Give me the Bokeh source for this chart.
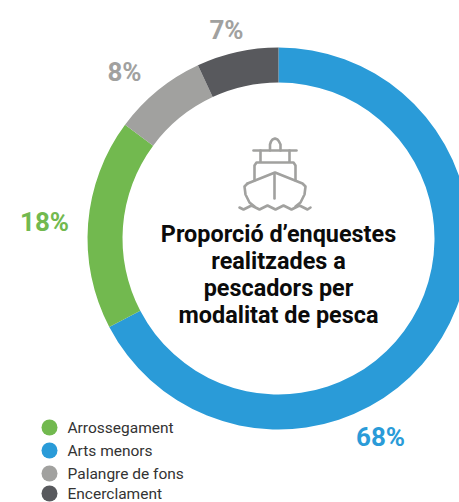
import math
from bokeh.plotting import figure
from bokeh.models import Range1d
from bokeh.core.properties import value
from bokeh.embed import file_html
from bokeh.resources import INLINE

categories = ["Arrossegament", "Arts menors", "Palangre de fons", "Encerclament"]
values = [18, 68, 8, 7]
labels = ["18%", "68%", "8%", "7%"]
colors = ["#72b94f", "#2a9bd8", "#a1a19f", "#58595d"]
label_colors = ["#72b94f", "#2a9bd8", "#a1a19f", "#a1a19f"]
title_lines = ["Proporció d’enquestes", "realitzades a", "pescadors per", "modalitat de pesca"]

W, H = 459, 502
p = figure(width=W, height=H, x_range=Range1d(0, W), y_range=Range1d(-H, 0),
           output_backend="svg", toolbar_location=None, min_border=0, outline_line_color=None)
p.axis.visible = False
p.grid.visible = False
p.background_fill_color = "white"

cx, cy, R, r = 278, 238, 191, 156
order = [1, 0, 2, 3]  # clockwise from the top
total = sum(values)
cum = 0
for i in order:
    start = math.pi / 2 - 2 * math.pi * (cum + values[i]) / total
    end = math.pi / 2 - 2 * math.pi * cum / total
    p.annular_wedge(x=cx, y=-cy, inner_radius=r, outer_radius=R, start_angle=start, end_angle=end,
                    fill_color=colors[i], line_color=None)
    cum += values[i]

label_pos = {0: (44, 221), 1: (380, 436), 2: (124, 71), 3: (226, 29)}
for i, (lx, ly) in label_pos.items():
    p.text(x=[lx], y=[-ly], text=[labels[i]], text_color=label_colors[i],
           text_font=value("Roboto"), text_font_style="bold", text_font_size="26px",
           text_align="center", text_baseline="middle")

for k, line in enumerate(title_lines):
    p.text(x=[cx], y=[-(233 + 27 * k)], text=[line], text_color="#0b0b0b",
           text_font=value("Roboto"), text_font_style="bold", text_font_size="23.4px",
           text_align="center", text_baseline="middle")

ly = [427, 450, 473, 493]
for i, yy in enumerate(ly):
    p.scatter(x=[49], y=[-yy], size=16, marker="circle", fill_color=colors[i], line_color=None)
    p.text(x=[67], y=[-yy], text=[categories[i]], text_color="#333333",
           text_font=value("Roboto"), text_font_size="15.5px",
           text_align="left", text_baseline="middle")

# ship icon
ic = "#a1a19f"
def ln(xs, ys):
    p.line(x=xs, y=[-v for v in ys], line_color=ic, line_width=2.6, line_cap="round", line_join="round")

ln([269.5, 269.5, 270.5, 272, 274.5, 277, 278.5, 280, 280], [150, 144, 141, 139, 138, 139, 141, 144, 150])
ln([253, 296], [150, 150])
ln([260, 260], [150, 161])
ln([289, 289], [150, 161])
ln([254, 254, 256, 293, 295, 295], [180, 165, 162, 162, 165, 180])
ln([247, 274.5, 302, 305, 304, 300, 295], [183, 172, 183, 186, 194, 202, 206])
ln([247, 244, 245, 249, 254], [183, 186, 194, 202, 206])
ln([274, 274], [173, 198])
ln([239, 243, 247, 251, 255, 259, 263, 267, 271, 275, 279, 283, 287, 291, 295, 299, 303, 307, 310],
   [207, 209, 207, 205, 207, 209, 207, 205, 207, 209, 207, 205, 207, 209, 207, 205, 207, 209, 207])

open("out.html", "w").write(file_html(p, INLINE))
